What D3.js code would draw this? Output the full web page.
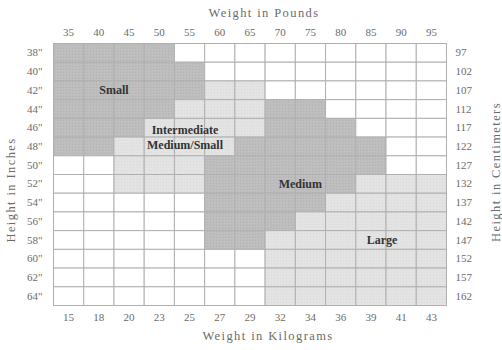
<!DOCTYPE html>
<html><head><meta charset="utf-8">
<script src="https://cdn.jsdelivr.net/npm/d3@7"></script>
<style>
html,body{margin:0;padding:0;background:#fff;}
svg{display:block;font-family:"Liberation Serif","DejaVu Serif",serif;}
</style></head>
<body>
<script>
const weightsLb = ["35","40","45","50","55","60","65","70","75","80","85","90","95"];
const weightsKg = ["15","18","20","23","25","27","29","32","34","36","39","41","43"];
const heightsIn = ["38\"","40\"","42\"","44\"","46\"","48\"","50\"","52\"","54\"","56\"","58\"","60\"","62\"","64\""];
const heightsCm = ["97","102","107","112","117","122","127","132","137","142","147","152","157","162"];
// size code per row (height) and column (weight): S=Small, I=Intermediate Medium/Small, M=Medium, L=Large, -=none
const sizeRows = [
  "SSSS---------",
  "SSSSS--------",
  "SSSSSII------",
  "SSSSIIIMM----",
  "SSSIIIIMMM---",
  "SSIIIIMMMMM--",
  "--IIIMMMMMM--",
  "--IIIMMMMMLLL",
  "-----MMMMLLLL",
  "-----MMMLLLLL",
  "-----MMLLLLLL",
  "-------LLLLLL",
  "-------LLLLLL",
  "-------LLLLLL"
];
const sizeNames = ["Small", "Intermediate\nMedium/Small", "Medium", "Large"];

const W = 502, H = 350;
const svg = d3.select("body").append("svg").attr("width", W).attr("height", H);

const x = d3.scaleBand().domain(weightsLb).range([53.5, 446.5]).padding(0);
const y = d3.scaleBand().domain(heightsIn).range([43.5, 305.5]).padding(0);
const xKg = d3.scaleBand().domain(weightsKg).range(x.range());
const yCm = d3.scaleBand().domain(heightsCm).range(y.range());

const fill = {S: "#bcbcbc", M: "#bcbcbc", I: "#e2e2e2", L: "#e2e2e2", "-": "#ffffff"};

const defs = svg.append("defs");
const pat = defs.append("pattern").attr("id","stip").attr("width",3).attr("height",3).attr("patternUnits","userSpaceOnUse");
pat.append("rect").attr("width",3).attr("height",3).attr("fill","#bdbdbd");
pat.append("rect").attr("x",0).attr("y",0).attr("width",1).attr("height",1).attr("fill","#b3b3b3");
pat.append("rect").attr("x",2).attr("y",1).attr("width",1).attr("height",1).attr("fill","#c4c4c4");
const pat2 = defs.append("pattern").attr("id","stip2").attr("width",3).attr("height",3).attr("patternUnits","userSpaceOnUse");
pat2.append("rect").attr("width",3).attr("height",3).attr("fill","#e3e3e3");
pat2.append("rect").attr("x",1).attr("y",2).attr("width",1).attr("height",1).attr("fill","#dadada");
const fillP = {S: "url(#stip)", M: "url(#stip)", I: "url(#stip2)", L: "url(#stip2)", "-": "#ffffff"};

const cells = [];
sizeRows.forEach((row, r) => {
  row.split("").forEach((c, ci) => cells.push({h: heightsIn[r], w: weightsLb[ci], c}));
});

svg.append("g").selectAll("rect").data(cells).join("rect")
  .attr("x", d => x(d.w)).attr("y", d => y(d.h))
  .attr("width", x.bandwidth()).attr("height", y.bandwidth())
  .attr("fill", d => fillP[d.c])
  .attr("stroke", "#b0b0b0").attr("stroke-width", 1);

// outer border
svg.append("rect").attr("x", 53.5).attr("y", 43.5).attr("width", 393).attr("height", 262)
  .attr("fill", "none").attr("stroke", "#b0b0b0");

const tickColor = "#6b6b6b";
function styleAxis(g) {
  g.select(".domain").remove();
  g.selectAll("line").remove();
  g.selectAll("text").attr("fill", tickColor).style("font-size", "11px").style("font-family", '"Liberation Serif",serif');
}
svg.append("g").attr("transform", "translate(0,43.5)").call(d3.axisTop(x).tickSize(0).tickPadding(8)).call(styleAxis);
svg.append("g").attr("transform", "translate(0,305.5)").call(d3.axisBottom(xKg).tickSize(0).tickPadding(8)).call(styleAxis);
svg.append("g").attr("transform", "translate(53.5,0)").call(d3.axisLeft(y).tickSize(0).tickPadding(11)).call(styleAxis);
svg.append("g").attr("transform", "translate(446.5,0)").call(d3.axisRight(yCm).tickSize(0).tickPadding(9)).call(styleAxis);

// titles
const titleStyle = s => s.attr("fill", tickColor).style("font-size", "12.5px").style("letter-spacing", "1.4px").attr("text-anchor", "middle");
svg.append("text").attr("x", 264).attr("y", 17).text("Weight in Pounds").call(titleStyle);
svg.append("text").attr("x", 268).attr("y", 340).text("Weight in Kilograms").call(titleStyle);
svg.append("text").attr("transform", "translate(15,190) rotate(-90)").text("Height in Inches").call(titleStyle);
svg.append("text").attr("transform", "translate(500,172) rotate(-90)").text("Height in Centimeters").call(titleStyle);

// region labels
const labelPos = [
  {name: sizeNames[0], cx: x("45"), cy: y("42\"") + y.bandwidth()/2},
  {name: sizeNames[1], cx: x("55") + x.bandwidth()*0.35, cy: y("48\"")},
  {name: sizeNames[2], cx: x("75") + 5, cy: y("52\"") + y.bandwidth()/2},
  {name: sizeNames[3], cx: x("90") - 4, cy: y("58\"") + y.bandwidth()/2}
];
labelPos.forEach(l => {
  const lines = l.name.split("\n");
  const t = svg.append("text").attr("text-anchor", "middle").attr("fill", "#333")
    .style("font-size", "12px").style("font-weight", "bold");
  lines.forEach((ln, i) => {
    t.append("tspan").attr("x", l.cx)
      .attr("y", l.cy + (i - (lines.length - 1)/2) * 14.5)
      .attr("dy", "0.35em").text(ln);
  });
});
</script>
</body></html>
